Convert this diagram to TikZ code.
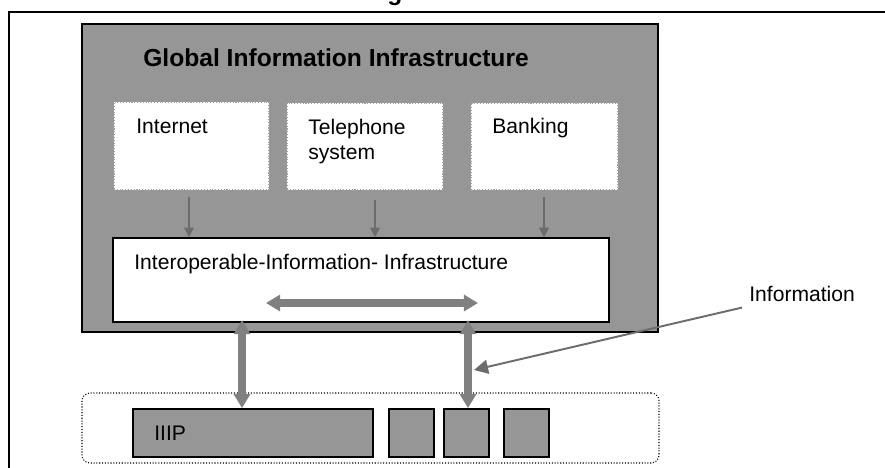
\documentclass[tikz,border=0pt]{standalone}
\usepackage{fontspec}
\setmainfont{Liberation Sans}
\usetikzlibrary{arrows.meta,calc,fit}

\definecolor{panelgray}{RGB}{150,150,150}
\definecolor{pipegray}{RGB}{128,128,128}
\definecolor{wiregray}{RGB}{108,108,108}

\begin{document}
\begin{tikzpicture}[x=0.02cm,y=-0.02cm,font=\fontsize{12pt}{14.2pt}\selectfont]
    \tikzset{
        txt/.style={inner sep=0pt,anchor=base west},
        panel/.style={draw,line width=1pt,fill=panelgray,inner sep=0pt},
        srcbox/.style={draw=gray!75,densely dotted,line width=0.6pt,fill=white,inner sep=0pt},
        hubbox/.style={draw,line width=0.9pt,fill=white,inner sep=0pt},
        unit/.style={draw,line width=1pt,fill=panelgray,inner sep=0pt},
        tray/.style={draw,densely dotted,line width=0.6pt,rounded corners=4.5pt,inner sep=0pt},
        feed/.style={-{Triangle[width=5.5pt,length=5.5pt]},draw=wiregray,fill=wiregray,line width=0.8pt},
        pipe/.style={{Triangle[width=9pt,length=8pt]}-{Triangle[width=9pt,length=8pt]},
            draw=pipegray,fill=pipegray,line width=4.5pt},
        pointer/.style={-{Triangle[width=8pt,length=8pt]},draw=wiregray,fill=wiregray,line width=1.1pt}
    }
    \useasboundingbox (0,0) rectangle (885,467);
    \clip (0,0) rectangle (885,467);
    \fill[white] (0,0) rectangle (885,467);

    % heading above the frame, only its descender shows
    \node[txt,anchor=base,font=\bfseries\fontsize{14pt}{16pt}\selectfont] (heading) at (395,0) {g};
    \draw[line width=1.1pt] (9,480) |- (900,12);

    % upper panel
    \node[panel,fit={(82,24)(658,332)}] (gii) {};
    \node[txt,font=\bfseries\fontsize{14pt}{16pt}\selectfont] (giiTitle) at (143,66)
        {Global Information Infrastructure};

    \node[srcbox,fit={(114,102)(269,190)}] (internet) {};
    \node[txt] (internetLbl) at (136,133) {Internet};
    \node[srcbox,fit={(287,103)(443,190)}] (phone) {};
    \node[txt,anchor=north west,align=left] (phoneLbl) at (308,118.5) {Telephone\\system};
    \node[srcbox,fit={(471,103)(618,190)}] (bank) {};
    \node[txt] (bankLbl) at (492,133) {Banking};

    \node[hubbox,fit={(113,238)(609,322)}] (interop) {};
    \node[txt] (interopLbl) at (134,269) {Interoperable-Information- Infrastructure};

    \coordinate (fromInternet) at (189,197);
    \coordinate (fromPhone) at (375,200);
    \coordinate (fromBank) at (544,197);
    \draw[feed] (fromInternet) -- (fromInternet |- interop.north);
    \draw[feed] (fromPhone) -- (fromPhone |- interop.north);
    \draw[feed] (fromBank) -- (fromBank |- interop.north);

    \coordinate (shareL) at (266,303);
    \coordinate (shareR) at (478,303);
    \draw[pipe] (shareL) -- (shareR);

    % lower tray
    \node[tray,fit={(82,393)(659,463)}] (access) {};
    \node[unit,fit={(133,409)(373,457)}] (iiip) {};
    \node[txt] (iiipLbl) at (154,440) {IIIP};
    \foreach \i/\l in {1/389,2/444,3/504}
        \node[unit,fit={(\l,409)(\l+45,457)}] (port\i) {};

    \coordinate (linkIIIP) at (242,320);
    \coordinate (linkPort) at (468,320);
    \draw[pipe] (linkIIIP) -- (linkIIIP |- iiip.north);
    \draw[pipe] (linkPort) -- (linkPort |- port2.north);

    \node[txt] (info) at (749,301) {Information};
    \coordinate (infoHit) at (474,370);
    \draw[pointer] ($(info.south west)+(-7,6)$) -- (infoHit);
\end{tikzpicture}
\end{document}
